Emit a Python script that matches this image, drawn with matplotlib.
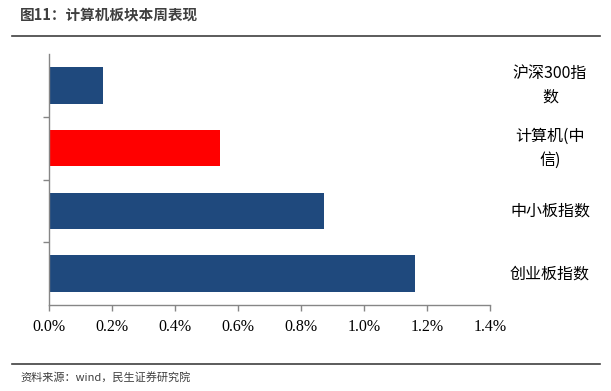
import matplotlib
matplotlib.use("Agg")
import matplotlib.pyplot as plt
from matplotlib.ticker import FuncFormatter, MultipleLocator
from matplotlib.lines import Line2D

plt.rcParams['font.family'] = ['Noto Sans CJK SC', 'DejaVu Sans']

categories = ["沪深300指\n数", "计算机(中\n信)", "中小板指数", "创业板指数"]
values = [0.171, 0.543, 0.873, 1.162]
colors = ["#1F497D", "#FF0000", "#1F497D", "#1F497D"]

fig = plt.figure(figsize=(6.11, 3.91), dpi=100)
ax = fig.add_axes([49/611, 1-305/391, (490-49)/611, (305-54)/391])

ypos = list(range(len(categories)))
ax.barh(ypos, values, height=0.58, color=colors)
ax.set_ylim(len(categories) - 0.5, -0.5)
ax.set_xlim(0, 1.4)
ax.xaxis.set_major_locator(MultipleLocator(0.2))
ax.xaxis.set_major_formatter(FuncFormatter(lambda v, p: f"{v:.1f}%"))
ax.set_yticks([0.5, 1.5, 2.5])
ax.set_yticklabels([])
ax.tick_params(axis='y', length=4, color='#868686', width=1, direction='out')
ax.tick_params(axis='x', length=4, color='#868686', width=1, direction='out', pad=6)
for lab in ax.get_xticklabels():
    lab.set_family(['Liberation Serif'])
    lab.set_fontsize(11.5)
for s in ['top', 'right']:
    ax.spines[s].set_visible(False)
for s in ['left', 'bottom']:
    ax.spines[s].set_color('#868686')
    ax.spines[s].set_linewidth(1)

xlab = (550 - 49) / (490 - 49)
for y, c in zip(ypos, categories):
    ax.text(xlab, y, c, transform=ax.get_yaxis_transform(), ha='center', va='center',
            fontsize=11.5, linespacing=1.5, color='black')

fig.text(20/611, 1-14/391, "图11：计算机板块本周表现", fontsize=10.5, fontweight='bold',
         color='#3F3F3F', ha='left', va='center')
fig.add_artist(Line2D([12/611, 600/611], [1-36/391, 1-36/391], color='#404040', lw=1.2))
fig.add_artist(Line2D([12/611, 600/611], [1-364/391, 1-364/391], color='#404040', lw=1.2))
fig.text(20/611, 1-377/391, "资料来源：wind，民生证券研究院", fontsize=8,
         color='#3F3F3F', ha='left', va='center')

fig.savefig("out.png", dpi=100)
